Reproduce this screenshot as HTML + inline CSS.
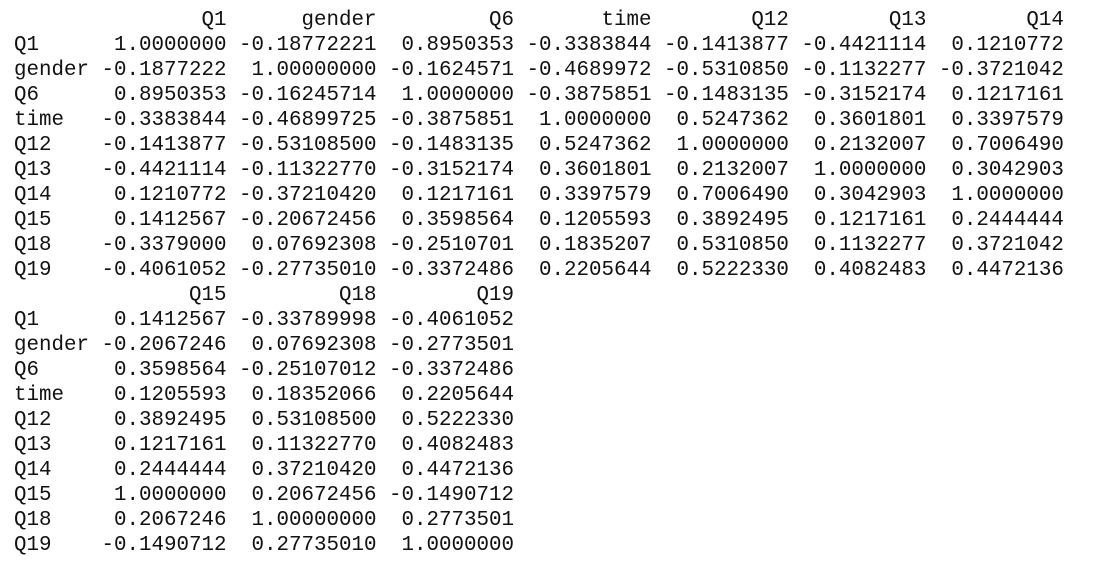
<!DOCTYPE html>
<html>
<head>
<meta charset="utf-8">
<style>
  html, body { margin: 0; padding: 0; background: #ffffff; width: 1111px; height: 562px; overflow: hidden; }
  pre {
    position: absolute; left: 14px; top: 8px; margin: 0;
    font-family: "Liberation Mono", "DejaVu Sans Mono", monospace;
    font-size: 20.83px; line-height: 25px; color: #111;
  }
</style>
</head>
<body>
<pre>               Q1      gender         Q6       time        Q12        Q13        Q14
Q1      1.0000000 -0.18772221  0.8950353 -0.3383844 -0.1413877 -0.4421114  0.1210772
gender -0.1877222  1.00000000 -0.1624571 -0.4689972 -0.5310850 -0.1132277 -0.3721042
Q6      0.8950353 -0.16245714  1.0000000 -0.3875851 -0.1483135 -0.3152174  0.1217161
time   -0.3383844 -0.46899725 -0.3875851  1.0000000  0.5247362  0.3601801  0.3397579
Q12    -0.1413877 -0.53108500 -0.1483135  0.5247362  1.0000000  0.2132007  0.7006490
Q13    -0.4421114 -0.11322770 -0.3152174  0.3601801  0.2132007  1.0000000  0.3042903
Q14     0.1210772 -0.37210420  0.1217161  0.3397579  0.7006490  0.3042903  1.0000000
Q15     0.1412567 -0.20672456  0.3598564  0.1205593  0.3892495  0.1217161  0.2444444
Q18    -0.3379000  0.07692308 -0.2510701  0.1835207  0.5310850  0.1132277  0.3721042
Q19    -0.4061052 -0.27735010 -0.3372486  0.2205644  0.5222330  0.4082483  0.4472136
              Q15         Q18        Q19
Q1      0.1412567 -0.33789998 -0.4061052
gender -0.2067246  0.07692308 -0.2773501
Q6      0.3598564 -0.25107012 -0.3372486
time    0.1205593  0.18352066  0.2205644
Q12     0.3892495  0.53108500  0.5222330
Q13     0.1217161  0.11322770  0.4082483
Q14     0.2444444  0.37210420  0.4472136
Q15     1.0000000  0.20672456 -0.1490712
Q18     0.2067246  1.00000000  0.2773501
Q19    -0.1490712  0.27735010  1.0000000</pre>
</body>
</html>
